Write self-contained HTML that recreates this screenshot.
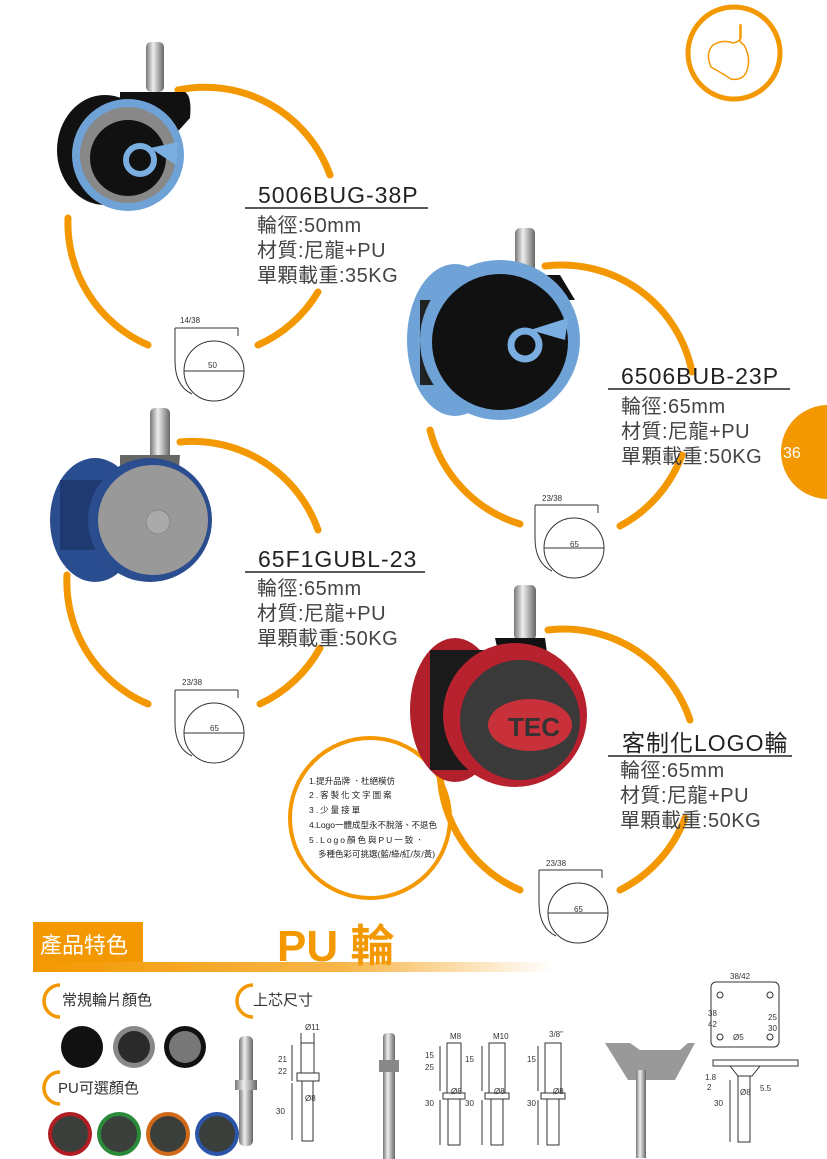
<!DOCTYPE html>
<html><head><meta charset="utf-8"><style>
body{margin:0;background:#fff;}
svg{display:block;font-family:"Liberation Sans","Noto Sans CJK TC",sans-serif;}
.t{font-size:23px;fill:#222;letter-spacing:1px;}
.d{font-size:20px;fill:#444;letter-spacing:0.5px;}
.s{font-size:8px;fill:#333;}
.arc{fill:none;stroke:#f39800;stroke-width:7;stroke-linecap:round;}
.dim{fill:none;stroke:#333;stroke-width:1;}
</style></head><body>
<svg width="827" height="1159" viewBox="0 0 827 1159">
<defs>
<linearGradient id="bar" x1="0" x2="1"><stop offset="0" stop-color="#f39800"/><stop offset="0.6" stop-color="#f7b64a"/><stop offset="1" stop-color="#fff"/></linearGradient>
<linearGradient id="metal" x1="0" x2="1"><stop offset="0" stop-color="#777"/><stop offset="0.4" stop-color="#eee"/><stop offset="1" stop-color="#666"/></linearGradient>
<symbol id="dimd" viewBox="0 0 80 90">
<path class="dim" d="M5 12 H68 M5 12 V45 Q5 70 22 78 M68 12 V20"/>
<circle class="dim" cx="44" cy="55" r="30"/>
<path class="dim" d="M14 55 H74"/>
</symbol>
</defs>

<!-- logo -->
<circle cx="734" cy="53" r="46" fill="none" stroke="#f39800" stroke-width="5"/>
<path d="M741 25 v13 q-2 4 -8 5 q-10 -4 -20 2 q-8 8 -2 22 q14 8 20 12 q10 2 15 -6 q6 -14 -2 -28 q-3 -2 -4 -4 v-16z" fill="none" stroke="#f39800" stroke-width="1.5"/>

<!-- page tab -->
<circle cx="828" cy="452" r="47" fill="#f39800"/>
<text x="783" y="458" font-size="16" fill="#fff">36</text>

<!-- arcs product1 -->
<path class="arc" d="M178 90 A133 133 0 0 1 330 175"/>
<path class="arc" d="M318 292 A133 133 0 0 1 258 345"/>
<path class="arc" d="M148 345 A133 133 0 0 1 68 218"/>
<!-- product2 -->
<path class="arc" d="M545 266 A133 133 0 0 1 692 372"/>
<path class="arc" d="M682 455 A133 133 0 0 1 620 526"/>
<path class="arc" d="M520 524 A133 133 0 0 1 430 430"/>
<!-- product3 -->
<path class="arc" d="M180 442 A133 133 0 0 1 318 530"/>
<path class="arc" d="M320 648 A133 133 0 0 1 260 704"/>
<path class="arc" d="M148 704 A133 133 0 0 1 67 575"/>
<!-- product4 -->
<path class="arc" d="M548 630 A133 133 0 0 1 690 720"/>
<path class="arc" d="M685 818 A133 133 0 0 1 620 890"/>
<path class="arc" d="M520 890 A133 133 0 0 1 440 770"/>
<circle cx="370" cy="818" r="80" fill="none" stroke="#f39800" stroke-width="4"/>

<!-- product 1 wheel -->
<rect x="146" y="42" width="18" height="50" rx="5" fill="url(#metal)"/>
<path d="M120 92 H185 Q192 96 190 118 L170 140 H120z" fill="#111"/>
<ellipse cx="105" cy="150" rx="48" ry="55" fill="#111"/>
<circle cx="128" cy="155" r="56" fill="#6fa3d8"/>
<circle cx="128" cy="155" r="48" fill="#888"/>
<circle cx="128" cy="158" r="38" fill="#111"/>
<circle cx="140" cy="160" r="14" fill="none" stroke="#7aaee0" stroke-width="6"/>
<path d="M150 148 L178 142 L176 165 Z" fill="#7aaee0"/>

<!-- product 2 wheel -->
<rect x="515" y="228" width="20" height="50" rx="5" fill="url(#metal)"/>
<path d="M480 275 H560 L575 300 L520 300z" fill="#111"/>
<ellipse cx="455" cy="340" rx="48" ry="76" fill="#6fa3d8"/>
<rect x="420" y="300" width="40" height="85" fill="#222"/>
<circle cx="500" cy="340" r="80" fill="#6fa3d8"/>
<circle cx="500" cy="342" r="68" fill="#111"/>
<circle cx="525" cy="345" r="14" fill="none" stroke="#7aaee0" stroke-width="7"/>
<path d="M530 330 L568 318 L565 340 Z" fill="#7aaee0"/>

<!-- product 3 wheel -->
<rect x="150" y="408" width="20" height="52" rx="5" fill="url(#metal)"/>
<path d="M120 455 H180 L178 480 H120z" fill="#666"/>
<ellipse cx="95" cy="520" rx="45" ry="62" fill="#2a4d8f"/>
<rect x="60" y="480" width="60" height="70" fill="#1e3a70"/>
<circle cx="150" cy="520" r="62" fill="#2a4d8f"/>
<circle cx="153" cy="520" r="55" fill="#999"/>
<circle cx="158" cy="522" r="12" fill="#aaa" stroke="#888"/>

<!-- product 4 wheel -->
<rect x="514" y="585" width="22" height="55" rx="5" fill="url(#metal)"/>
<path d="M495 638 H545 L548 660 H500z" fill="#111"/>
<ellipse cx="455" cy="710" rx="45" ry="72" fill="#b0202a"/>
<rect x="430" y="650" width="60" height="120" fill="#1a1a1a"/>
<circle cx="515" cy="715" r="72" fill="#b8222e"/>
<circle cx="520" cy="720" r="60" fill="#3a3a3a"/>
<ellipse cx="530" cy="725" rx="42" ry="26" fill="#c8303a"/>
<text x="508" y="736" font-size="26" font-weight="bold" fill="#333">TEC</text>

<!-- text blocks -->
<text class="t" x="258" y="203">5006BUG-38P</text><path d="M245 208 H428" stroke="#222" stroke-width="1.5"/>
<text class="d" x="257" y="232">輪徑:50mm</text><text class="d" x="257" y="257">材質:尼龍+PU</text><text class="d" x="257" y="282">單顆載重:35KG</text>

<text class="t" x="621" y="384">6506BUB-23P</text><path d="M608 389 H790" stroke="#222" stroke-width="1.5"/>
<text class="d" x="621" y="413">輪徑:65mm</text><text class="d" x="621" y="438">材質:尼龍+PU</text><text class="d" x="621" y="463">單顆載重:50KG</text>

<text class="t" x="258" y="567">65F1GUBL-23</text><path d="M245 572 H425" stroke="#222" stroke-width="1.5"/>
<text class="d" x="257" y="595">輪徑:65mm</text><text class="d" x="257" y="620">材質:尼龍+PU</text><text class="d" x="257" y="645">單顆載重:50KG</text>

<text class="t" x="622" y="751">客制化LOGO輪</text><path d="M608 756 H792" stroke="#222" stroke-width="1.5"/>
<text class="d" x="620" y="777">輪徑:65mm</text><text class="d" x="620" y="802">材質:尼龍+PU</text><text class="d" x="620" y="827">單顆載重:50KG</text>

<g font-size="8.5" fill="#222">
<text x="309" y="784">1.提升品牌 ．杜絕模仿</text>
<text x="309" y="798" letter-spacing="2">2.客製化文字圖案</text>
<text x="309" y="813" letter-spacing="2">3.少量接單</text>
<text x="309" y="828">4.Logo一體成型永不脫落、不退色</text>
<text x="309" y="843" letter-spacing="2">5.Logo顏色與PU一致．</text>
<text x="318" y="857">多種色彩可挑選(藍/綠/紅/灰/黃)</text>
</g>

<!-- dimension drawings -->
<svg x="170" y="316" width="80" height="90" viewBox="0 0 80 90"><use href="#dimd"/></svg>
<text class="s" x="180" y="323">14/38</text><text class="s" x="208" y="368">50</text>
<svg x="530" y="493" width="80" height="90" viewBox="0 0 80 90"><use href="#dimd"/></svg>
<text class="s" x="542" y="501">23/38</text><text class="s" x="570" y="547">65</text>
<svg x="170" y="678" width="80" height="90" viewBox="0 0 80 90"><use href="#dimd"/></svg>
<text class="s" x="182" y="685">23/38</text><text class="s" x="210" y="731">65</text>
<svg x="534" y="858" width="80" height="90" viewBox="0 0 80 90"><use href="#dimd"/></svg>
<text class="s" x="546" y="866">23/38</text><text class="s" x="574" y="912">65</text>

<!-- bottom -->
<rect x="33" y="922" width="110" height="46" fill="#f39800"/>
<rect x="33" y="962" width="520" height="10" fill="url(#bar)"/>
<text x="40" y="953" font-size="22" fill="#fff">產品特色</text>
<text x="277" y="961" font-size="44" font-weight="bold" fill="#f39800">PU 輪</text>

<g fill="none" stroke="#f39800" stroke-width="3.5">
<path d="M60 985 A16 16 0 0 0 60 1017"/>
<path d="M253 985 A16 16 0 0 0 253 1017"/>
<path d="M60 1072 A16 16 0 0 0 60 1104"/>
</g>
<text x="62" y="1005" font-size="15" fill="#333">常規輪片顏色</text>
<text x="253" y="1005" font-size="15" fill="#333">上芯尺寸</text>
<text x="58" y="1093" font-size="15" fill="#333">PU可選顏色</text>

<circle cx="82" cy="1047" r="21" fill="#111"/>
<circle cx="134" cy="1047" r="21" fill="#888"/><circle cx="134" cy="1047" r="16" fill="#2a2a2a"/>
<circle cx="185" cy="1047" r="21" fill="#111"/><circle cx="185" cy="1047" r="16" fill="#777"/>
<circle cx="70" cy="1134" r="22" fill="#b01e24"/><circle cx="70" cy="1134" r="18" fill="#3a3f3c"/>
<circle cx="119" cy="1134" r="22" fill="#2a8a3a"/><circle cx="119" cy="1134" r="18" fill="#3a3f3c"/>
<circle cx="168" cy="1134" r="22" fill="#d06a1a"/><circle cx="168" cy="1134" r="18" fill="#3a3f3c"/>
<circle cx="217" cy="1134" r="22" fill="#2a55a8"/><circle cx="217" cy="1134" r="18" fill="#3a3f3c"/>

<!-- stems -->
<rect x="239" y="1036" width="14" height="110" rx="5" fill="url(#metal)"/>
<rect x="235" y="1080" width="22" height="10" fill="url(#metal)"/>
<rect x="383" y="1033" width="12" height="130" rx="4" fill="url(#metal)"/>
<rect x="379" y="1060" width="20" height="12" fill="#888"/>
<path d="M605 1043 L630 1043 L640 1050 L680 1050 L688 1043 L695 1043 L675 1080 L628 1080z" fill="#999"/>
<rect x="636" y="1070" width="10" height="88" fill="url(#metal)"/>

<g class="s" font-size="9" fill="#333">
<text x="305" y="1030">Ø11</text><text x="278" y="1062">21</text><text x="278" y="1074">22</text><text x="276" y="1114">30</text><text x="305" y="1101">Ø8</text>
<text x="450" y="1039">M8</text><text x="493" y="1039">M10</text><text x="549" y="1037">3/8"</text>
<text x="425" y="1058">15</text><text x="425" y="1070">25</text><text x="465" y="1062">15</text><text x="527" y="1062">15</text>
<text x="425" y="1106">30</text><text x="465" y="1106">30</text><text x="527" y="1106">30</text>
<text x="451" y="1094">Ø8</text><text x="494" y="1094">Ø8</text><text x="553" y="1094">Ø8</text>
<text x="730" y="979">38/42</text><text x="708" y="1016">38</text><text x="708" y="1027">42</text>
<text x="768" y="1020">25</text><text x="768" y="1031">30</text><text x="733" y="1040">Ø5</text>
<text x="705" y="1080">1.8</text><text x="707" y="1090">2</text><text x="760" y="1091">5.5</text><text x="714" y="1106">30</text><text x="740" y="1095">Ø8</text>
</g>
<g class="dim" stroke="#555">
<path d="M301 1033 v10 M314 1033 v10 M301 1043 h13 v30 h-13z M297 1073 h22 v8 h-22z M302 1081 h11 v60 h-11z M292 1045 v36 M292 1083 v57"/>
<path d="M447 1043 h14 v50 h-14z M443 1093 h22 v6 h-22z M448 1099 h12 v46 h-12z M440 1046 v45 M440 1100 v45"/>
<path d="M489 1043 h16 v50 h-16z M485 1093 h24 v6 h-24z M491 1099 h12 v46 h-12z M482 1046 v45 M482 1100 v45"/>
<path d="M545 1043 h16 v50 h-16z M541 1093 h24 v6 h-24z M547 1099 h12 v46 h-12z M538 1046 v45 M538 1100 v45"/>
<rect x="711" y="982" width="68" height="65" rx="5"/>
<circle cx="720" cy="995" r="3"/><circle cx="770" cy="995" r="3"/><circle cx="720" cy="1037" r="3"/><circle cx="770" cy="1037" r="3"/>
<path d="M713 1060 h85 v6 h-85z M730 1066 h30 l-8 10 h-14z M738 1076 h12 v66 h-12z M730 1080 v62"/>
</g>
</svg>
</body></html>
